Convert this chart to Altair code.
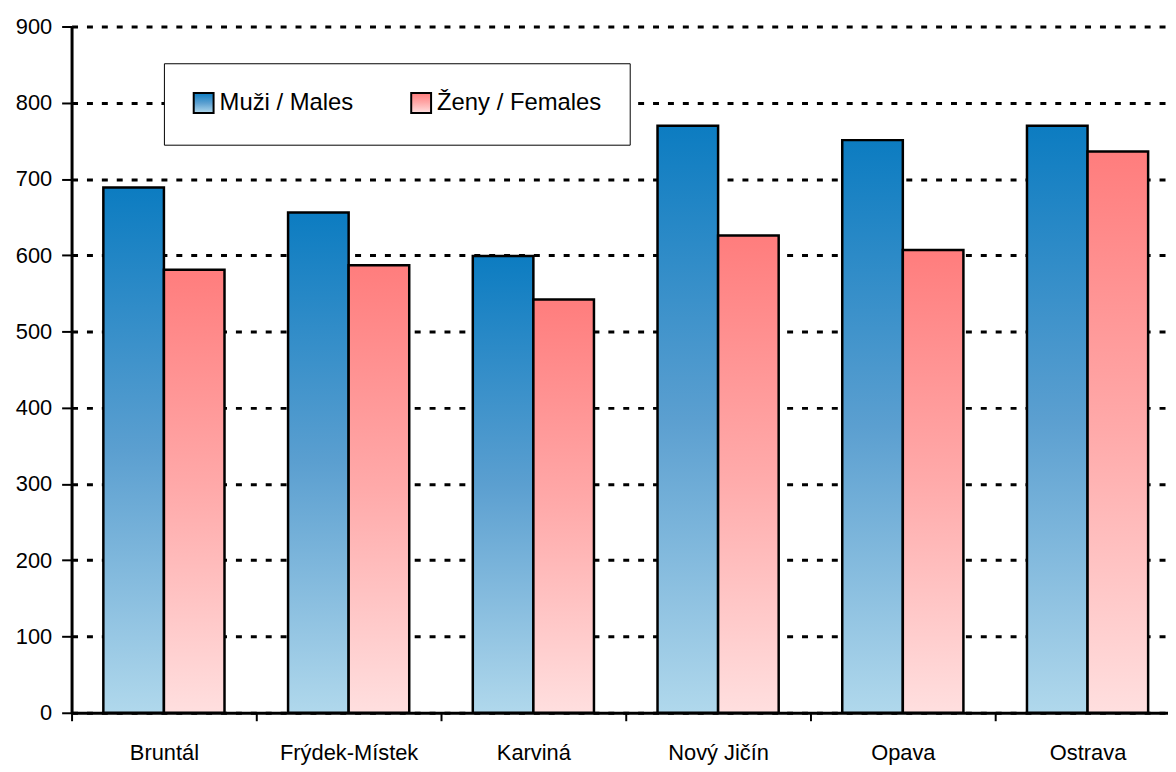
import altair as alt
import pandas as pd

categories = ["Bruntál", "Frýdek-Místek", "Karviná", "Nový Jičín", "Opava", "Ostrava"]
males = [689, 656, 599, 770, 751, 770]
females = [581, 587, 542, 626, 607, 736]
series = ["Muži / Males", "Ženy / Females"]
y_ticks = [0, 100, 200, 300, 400, 500, 600, 700, 800, 900]

rows = []
for c, m, f in zip(categories, males, females):
    rows.append({"okres": c, "pohlavi": series[0], "hodnota": m})
    rows.append({"okres": c, "pohlavi": series[1], "hodnota": f})
df = pd.DataFrame(rows)

blue_grad = ("{gradient: 'linear', x1: 0, y1: 1, x2: 0, y2: 0, stops: ["
             "{offset: 0, color: '#b0d8ec'}, {offset: 0.5, color: '#5b9fd0'}, {offset: 1, color: '#0c7cc1'}]}")
red_grad = ("{gradient: 'linear', x1: 0, y1: 1, x2: 0, y2: 0, stops: ["
            "{offset: 0, color: '#ffdfdf'}, {offset: 0.5, color: '#ffaaaa'}, {offset: 1, color: '#ff7d7d'}]}")

FONT = "Liberation Sans, Arial"

chart = alt.Chart(df).mark_bar(stroke="black", strokeWidth=2.5).encode(
    x=alt.X("okres:N", sort=categories, title=None,
            scale=alt.Scale(paddingInner=0, paddingOuter=0, range=[0, 1116]),
            axis=alt.Axis(labelAngle=0, tickBand="extent", tickSize=8, tickWidth=2,
                          tickColor="black", domainColor="black", domainWidth=3,
                          labelPadding=22, labelFontSize=22, labelColor="black",
                          labelFont=FONT, grid=False)),
    xOffset=alt.XOffset("pohlavi:N", sort=series,
                        scale=alt.Scale(paddingInner=0, paddingOuter=0.5246)),
    y=alt.Y("hodnota:Q", title=None,
            scale=alt.Scale(domain=[0, 900], nice=False),
            axis=alt.Axis(values=y_ticks, tickSize=10, tickWidth=2, tickColor="black",
                          domainColor="black", domainWidth=3, labelPadding=10,
                          labelFontSize=22, labelColor="black", labelFont=FONT,
                          grid=True, gridDash=[6, 9], gridColor="black", gridWidth=3)),
    color=alt.Color("pohlavi:N", sort=series,
                    scale=alt.Scale(domain=series,
                                    range=[alt.ExprRef(blue_grad), alt.ExprRef(red_grad)]),
                    legend=alt.Legend(title=None, orient="none", legendX=93, legendY=37,
                                      direction="horizontal", symbolType="square",
                                      symbolSize=400, symbolStrokeColor="black",
                                      symbolStrokeWidth=2, labelFontSize=24,
                                      labelFont=FONT, labelColor="black", labelOffset=4,
                                      labelLimit=400, columnPadding=54, padding=28,
                                      strokeColor="black", fillColor="white")),
).properties(
    width=1104,
    height=691,
    autosize=alt.AutoSizeParams(type="none"),
    padding={"left": 64, "top": 16, "right": 0, "bottom": 57},
).configure_view(strokeWidth=0)

chart.save("out.html", embed_options={"renderer": "svg", "actions": False})
